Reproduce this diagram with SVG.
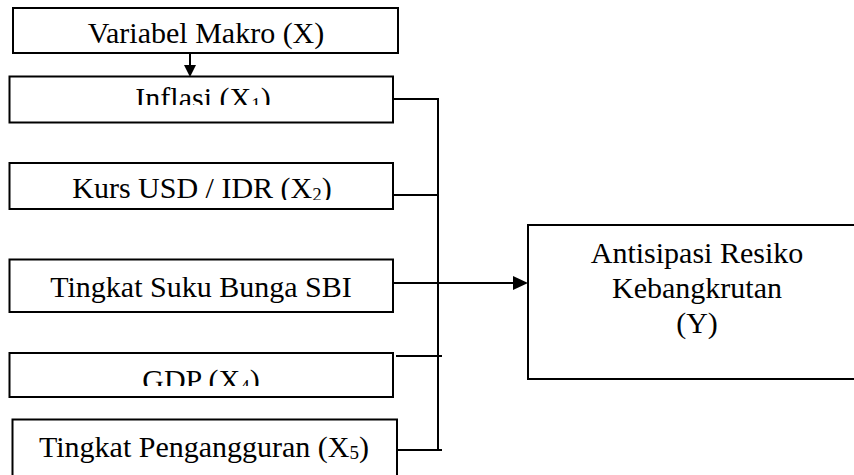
<svg xmlns="http://www.w3.org/2000/svg" width="854" height="475" viewBox="0 0 854 475">
<style>
.box{fill:#fff;stroke:#000;stroke-width:2}
.t{font-family:"Liberation Serif","Times New Roman",serif;font-size:30px;fill:#000;text-anchor:middle}
.c{stroke:#000;stroke-width:2;fill:none}
.ah{fill:#000;stroke:none}
</style>
<defs>
<clipPath id="clip1"><rect x="0" y="70" width="400" height="35"/></clipPath>
<clipPath id="clip2"><rect x="0" y="160" width="400" height="40"/></clipPath>
<clipPath id="clip4"><rect x="0" y="350" width="400" height="36"/></clipPath>
</defs>
<g id="connectors">
<line class="c" x1="190" y1="53" x2="190" y2="66"/>
<polygon class="ah" points="184,65 196,65 190,77"/>
<polyline class="c" points="393,99 438,99 438,450"/>
<line class="c" x1="393" y1="195" x2="438" y2="195"/>
<line class="c" x1="396" y1="356" x2="442" y2="356"/>
<line class="c" x1="397" y1="450" x2="442" y2="450"/>
<line class="c" x1="393" y1="283" x2="515" y2="283"/>
<polygon class="ah" points="513,276 513,290 528,283"/>
</g>
<g id="node-x">
<rect class="box" x="13" y="8" width="385" height="45"/>
<text class="t" x="206" y="43">Variabel Makro (X)</text>
</g>
<g id="node-x1">
<rect class="box" x="9.5" y="76.5" width="383.5" height="46"/>
<text class="t" x="203" y="108" clip-path="url(#clip1)">Inflasi (X<tspan font-size="19" dy="3">1</tspan><tspan dy="-3">)</tspan></text>
</g>
<g id="node-x2">
<rect class="box" x="9.5" y="163" width="383.5" height="46"/>
<text class="t" x="202" y="198" clip-path="url(#clip2)">Kurs USD / IDR (X<tspan font-size="19" dy="3">2</tspan><tspan dy="-3">)</tspan></text>
</g>
<g id="node-x3">
<rect class="box" x="9.5" y="259.5" width="383.5" height="52.5"/>
<text class="t" x="201" y="297">Tingkat Suku Bunga SBI</text>
</g>
<g id="node-x4">
<rect class="box" x="9.5" y="353" width="383.5" height="44"/>
<text class="t" x="201" y="390" clip-path="url(#clip4)">GDP (X<tspan font-size="19" dy="3">4</tspan><tspan dy="-3">)</tspan></text>
</g>
<g id="node-x5">
<rect class="box" x="12.5" y="419.5" width="384.5" height="70"/>
<text class="t" x="204" y="457">Tingkat Pengangguran (X<tspan font-size="19" dy="2">5</tspan><tspan dy="-2">)</tspan></text>
</g>
<g id="node-y">
<rect class="box" x="528" y="225" width="340" height="154"/>
<text class="t" x="697" y="263">Antisipasi Resiko</text>
<text class="t" x="697" y="298">Kebangkrutan</text>
<text class="t" x="697" y="333">(Y)</text>
</g>
</svg>
